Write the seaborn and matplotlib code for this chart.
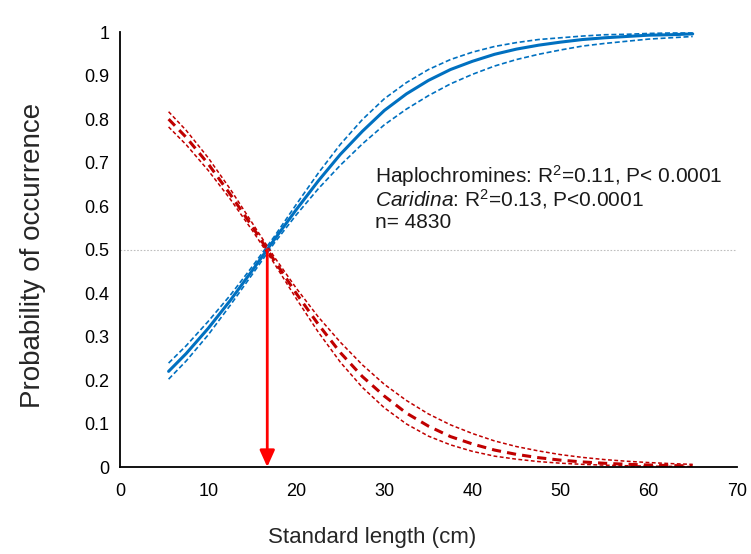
import pandas as pd
import matplotlib
matplotlib.use("Agg")
import matplotlib.pyplot as plt
import seaborn as sns

length = [5.5, 7.5, 10, 12.5, 15, 17.5, 20, 22.5, 25, 27.5, 30, 32.5, 35,
          37.5, 40, 42.5, 45, 47.5, 50, 52.5, 55, 57.5, 60, 62.5, 65]

# Haplochromines: fitted probability and 95% band
hap_fit = [0.220, 0.261, 0.319, 0.383, 0.452, 0.523, 0.592, 0.658, 0.719, 0.772,
           0.820, 0.858, 0.889, 0.914, 0.933, 0.949, 0.961, 0.970, 0.977, 0.983,
           0.987, 0.990, 0.993, 0.994, 0.996]
hap_upper = [0.239, 0.279, 0.335, 0.395, 0.461, 0.530, 0.604, 0.676, 0.742, 0.799,
             0.847, 0.884, 0.914, 0.937, 0.954, 0.967, 0.976, 0.983, 0.987, 0.991,
             0.994, 0.995, 0.997, 0.998, 0.998]
hap_lower = [0.202, 0.244, 0.304, 0.372, 0.443, 0.515, 0.580, 0.640, 0.694, 0.743,
             0.787, 0.823, 0.854, 0.881, 0.903, 0.922, 0.937, 0.949, 0.959, 0.968,
             0.974, 0.979, 0.984, 0.987, 0.990]

# Caridina: fitted probability and 95% band
car_fit = [0.800, 0.758, 0.697, 0.627, 0.553, 0.475, 0.399, 0.328, 0.263, 0.208,
           0.163, 0.124, 0.094, 0.070, 0.053, 0.039, 0.029, 0.0215, 0.0158, 0.0117,
           0.0086, 0.0063, 0.0046, 0.0034, 0.0025]
car_upper = [0.817, 0.774, 0.711, 0.639, 0.561, 0.483, 0.411, 0.345, 0.287, 0.235,
             0.190, 0.153, 0.122, 0.097, 0.077, 0.060, 0.047, 0.037, 0.0285, 0.0221,
             0.0171, 0.0133, 0.0103, 0.0079, 0.0061]
car_lower = [0.782, 0.741, 0.682, 0.616, 0.544, 0.468, 0.387, 0.310, 0.241, 0.183,
             0.136, 0.099, 0.071, 0.051, 0.036, 0.025, 0.018, 0.0125, 0.0088, 0.0061,
             0.0043, 0.0030, 0.0021, 0.0015, 0.0010]

crossing = 16.7  # length where both curves hit 0.5

notes = [r"Haplochromines: R$^{2}$=0.11, P< 0.0001",
         r"$\mathit{Caridina}$: R$^{2}$=0.13, P<0.0001",
         "n= 4830"]

sns.set_style("white")
plt.rcParams['font.family'] = ['Liberation Sans', 'DejaVu Sans']
plt.rcParams['mathtext.fontset'] = 'custom'
plt.rcParams['mathtext.rm'] = 'Liberation Sans'
plt.rcParams['mathtext.it'] = 'Liberation Sans:italic'

blue = "#0070C0"
red = "#C00000"

df = pd.DataFrame({"length": length,
                   "hap_fit": hap_fit, "hap_upper": hap_upper, "hap_lower": hap_lower,
                   "car_fit": car_fit, "car_upper": car_upper, "car_lower": car_lower})

fig = plt.figure(figsize=(7.51, 5.54), dpi=100)
ax = fig.add_axes([0.160, 0.157, 0.821, 0.785])

# 0.5 reference line
ax.axhline(0.5, color="#BFBFBF", lw=0.8, ls=(0, (1.5, 1.5)), zorder=1)

# Haplochromines
sns.lineplot(data=df, x="length", y="hap_fit", color=blue, lw=2.2, ax=ax)
for col in ["hap_upper", "hap_lower"]:
    sns.lineplot(data=df, x="length", y=col, color=blue, lw=1.2, ax=ax)
    ax.lines[-1].set_dashes((3, 1.6))

# Caridina
sns.lineplot(data=df, x="length", y="car_fit", color=red, lw=2.2, ax=ax)
ax.lines[-1].set_dashes((3.0, 2.0))
for col in ["car_upper", "car_lower"]:
    sns.lineplot(data=df, x="length", y=col, color=red, lw=1.1, ax=ax)
    ax.lines[-1].set_dashes((2.5, 1.6))

# arrow from the crossing point down to the x axis
ax.annotate("", xy=(crossing, 0), xytext=(crossing, 0.5),
            arrowprops=dict(arrowstyle="-|>,head_length=1.0,head_width=0.45",
                            color="#FF0000", lw=2.0, shrinkA=0, shrinkB=0),
            zorder=5)

for i, t in enumerate(notes):
    ax.text(28.9, 0.669 - i * 0.053, t, fontsize=15, va="center", ha="left",
            color="#1a1a1a")

ax.set_xlim(0, 70)
ax.set_ylim(0, 1)
ax.set_xticks(range(0, 71, 10))
ax.set_yticks([i / 10 for i in range(11)])
ax.set_yticklabels(["0"] + [f"{i / 10:.1f}" for i in range(1, 10)] + ["1"])
ax.tick_params(axis="both", direction="out", length=3.8, width=1.3, labelsize=13,
               colors="black", pad=4)
ax.tick_params(axis="x", pad=8)
for s in ["top", "right"]:
    ax.spines[s].set_visible(False)
for s in ["left", "bottom"]:
    ax.spines[s].set_color("black")
    ax.spines[s].set_linewidth(1.3)

ax.set_xlabel("Standard length (cm)", fontsize=16, va="center")
ax.set_ylabel("Probability of occurrence", fontsize=20, va="center")
ax.xaxis.set_label_coords(0.408, -0.161)
ax.yaxis.set_label_coords(-0.141, 0.487)

fig.savefig("out.png", dpi=100)
